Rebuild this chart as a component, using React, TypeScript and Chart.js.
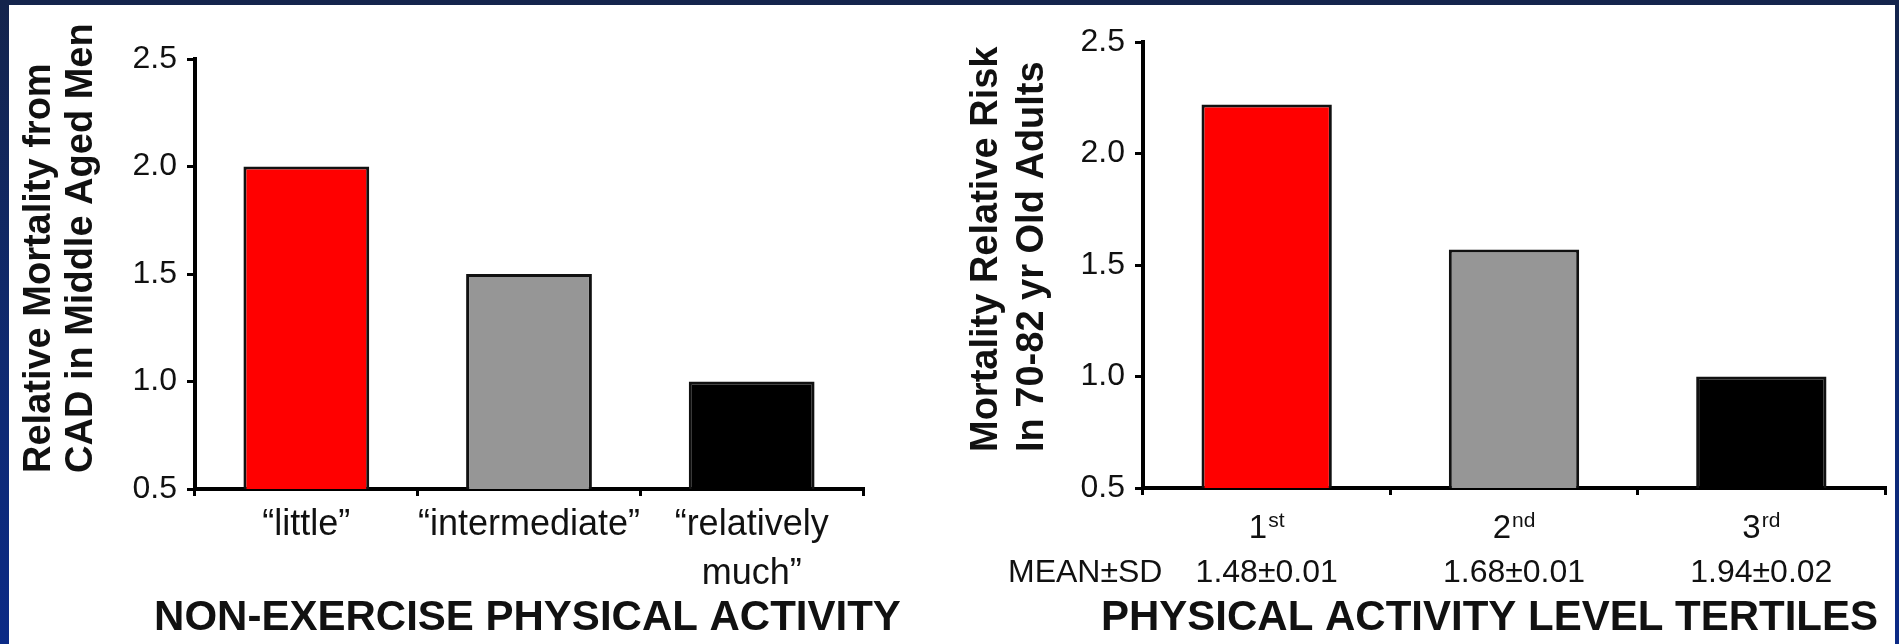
import React, { useEffect, useRef } from "react";
import { Chart, registerables } from "chart.js";

Chart.register(...registerables);

// ---------- data ----------
const leftCategories: (string | string[])[] = ["“little”", "“intermediate”", ["“relatively", "much”"]];
const leftValues = [2.0, 1.5, 1.0];

const rightCategories = ["1st", "2nd", "3rd"];
const rightOrdinals = ["1", "2", "3"];
const rightSuffixes = ["st", "nd", "rd"];
const rightMeanSd = ["1.48±0.01", "1.68±0.01", "1.94±0.02"];
const rightValues = [2.22, 1.57, 1.0];

const barColors = ["#ff0000", "#969696", "#000000"];
const yTickValues = [0.5, 1.0, 1.5, 2.0, 2.5];

const leftYTitle = ["Relative Mortality from", "CAD in Middle Aged Men"];
const rightYTitle = ["Mortality Relative Risk", "In 70-82 yr Old Adults"];
const leftXTitle = "NON-EXERCISE PHYSICAL ACTIVITY";
const rightXTitle = "PHYSICAL ACTIVITY LEVEL TERTILES";
const meanSdLabel = "MEAN±SD";

// ---------- styling ----------
const FONT = "'Liberation Sans', Arial, Helvetica, sans-serif";
const TEXT = "#111111";

type TextCfg = {
  yTitle: string[];
  yTitleX: number[]; // baseline offsets from chartArea.left
  yTitleStart: number; // offset above chartArea.bottom
  xTitle: string;
  xTitleDx: number;
  xTitleDy: number;
  ordinals?: boolean;
};

function makeTextPlugin(cfg: TextCfg) {
  return {
    id: "sideTexts",
    afterDraw(chart: any) {
      const { ctx, chartArea } = chart;
      const { left, right, bottom } = chartArea;
      ctx.save();
      ctx.fillStyle = TEXT;
      ctx.textBaseline = "alphabetic";
      // rotated y-axis title, two lines
      ctx.font = `bold 38px ${FONT}`;
      cfg.yTitle.forEach((line, i) => {
        ctx.save();
        ctx.translate(left + cfg.yTitleX[i], bottom - cfg.yTitleStart);
        ctx.rotate(-Math.PI / 2);
        ctx.textAlign = "left";
        ctx.fillText(line, 0, 0);
        ctx.restore();
      });
      // x-axis title
      ctx.font = `bold 42px ${FONT}`;
      ctx.textAlign = "center";
      ctx.fillText(cfg.xTitle, (left + right) / 2 + cfg.xTitleDx, bottom + cfg.xTitleDy);

      if (cfg.ordinals) {
        const xs = chart.scales.x;
        rightOrdinals.forEach((num, i) => {
          const cx = xs.getPixelForValue(i);
          ctx.font = `33px ${FONT}`;
          const w1 = ctx.measureText(num).width;
          ctx.font = `21px ${FONT}`;
          const w2 = ctx.measureText(rightSuffixes[i]).width;
          const x0 = cx - (w1 + w2 + 1) / 2;
          ctx.textAlign = "left";
          ctx.font = `33px ${FONT}`;
          ctx.fillText(num, x0, bottom + 50);
          ctx.font = `21px ${FONT}`;
          ctx.fillText(rightSuffixes[i], x0 + w1 + 1, bottom + 39);
          ctx.font = `32px ${FONT}`;
          ctx.textAlign = "center";
          ctx.fillText(rightMeanSd[i], cx, bottom + 94);
        });
        ctx.font = `32px ${FONT}`;
        ctx.textAlign = "left";
        ctx.fillText(meanSdLabel, left - 135, bottom + 94);
      }
      ctx.restore();
    },
  };
}

function makeConfig(opts: {
  labels: any[];
  values: number[];
  barPct: number;
  padTop: number;
  padRight: number;
  yWidth: number;
  xHeight: number;
  showXTicks: boolean;
  text: TextCfg;
}): any {
  return {
    type: "bar",
    data: {
      labels: opts.labels,
      datasets: [
        {
          data: opts.values,
          backgroundColor: barColors,
          borderColor: "#111111",
          borderWidth: 3,
          borderSkipped: "start",
          barPercentage: opts.barPct,
          categoryPercentage: 1,
        },
      ],
    },
    options: {
      animation: false,
      responsive: false,
      events: [],
      layout: { padding: { left: 0, top: opts.padTop, right: opts.padRight, bottom: 0 } },
      plugins: { legend: { display: false }, tooltip: { enabled: false }, title: { display: false } },
      scales: {
        x: {
          type: "category",
          offset: true,
          grid: {
            display: true,
            offset: true,
            drawOnChartArea: false,
            drawTicks: true,
            tickLength: 7,
            color: "#000",
            lineWidth: 3,
          },
          border: { display: true, color: "#000", width: 4 },
          ticks: {
            display: opts.showXTicks,
            color: TEXT,
            font: { family: FONT, size: 36, lineHeight: 1.38 },
            padding: 4,
            maxRotation: 0,
            minRotation: 0,
            autoSkip: false,
          },
          afterFit: (s: any) => {
            s.height = opts.xHeight;
          },
        },
        y: {
          type: "linear",
          min: yTickValues[0],
          max: yTickValues[yTickValues.length - 1],
          grid: {
            display: true,
            drawOnChartArea: false,
            drawTicks: true,
            tickLength: 8,
            color: "#000",
            lineWidth: 3,
          },
          border: { display: true, color: "#000", width: 4 },
          ticks: {
            color: TEXT,
            font: { family: FONT, size: 32 },
            padding: 10,
            callback: (v: any) => Number(v).toFixed(1),
          },
          afterBuildTicks: (s: any) => {
            s.ticks = yTickValues.map((v) => ({ value: v }));
          },
          afterFit: (s: any) => {
            s.width = opts.yWidth;
          },
        },
      },
    },
    plugins: [makeTextPlugin(opts.text)],
  };
}

export default function App() {
  const leftRef = useRef<HTMLCanvasElement | null>(null);
  const rightRef = useRef<HTMLCanvasElement | null>(null);

  useEffect(() => {
    document.body.style.margin = "0";
    const charts: Chart[] = [];
    if (leftRef.current) {
      charts.push(
        new Chart(
          leftRef.current,
          makeConfig({
            labels: leftCategories,
            values: leftValues,
            barPct: 0.565,
            padTop: 59,
            padRight: 87,
            yWidth: 195,
            xHeight: 155,
            showXTicks: true,
            text: {
              yTitle: leftYTitle,
              yTitleX: [-145, -103],
              yTitleStart: 16,
              xTitle: leftXTitle,
              xTitleDx: -1.5,
              xTitleDy: 141,
            },
          })
        )
      );
    }
    if (rightRef.current) {
      charts.push(
        new Chart(
          rightRef.current,
          makeConfig({
            labels: rightCategories,
            values: rightValues,
            barPct: 0.527,
            padTop: 42,
            padRight: 14,
            yWidth: 193,
            xHeight: 156,
            showXTicks: false,
            text: {
              yTitle: rightYTitle,
              yTitleX: [-146, -100],
              yTitleStart: 36,
              xTitle: rightXTitle,
              xTitleDx: -24.5,
              xTitleDy: 142,
              ordinals: true,
            },
          })
        )
      );
    }
    return () => {
      charts.forEach((c) => c.destroy());
    };
  }, []);

  return (
    <div
      style={{
        position: "relative",
        width: 1899,
        height: 644,
        overflow: "hidden",
        background: "linear-gradient(to bottom, #14244c 0%, #0f2a70 55%, #0b2a86 100%)",
      }}
    >
      <div
        style={{
          position: "absolute",
          left: 9,
          top: 5,
          width: 1886,
          height: 639,
          background: "#ffffff",
        }}
      />
      <canvas
        ref={leftRef}
        width={950}
        height={644}
        style={{ position: "absolute", left: 0, top: 0, width: 950, height: 644 }}
      />
      <canvas
        ref={rightRef}
        width={949}
        height={644}
        style={{ position: "absolute", left: 950, top: 0, width: 949, height: 644 }}
      />
    </div>
  );
}
